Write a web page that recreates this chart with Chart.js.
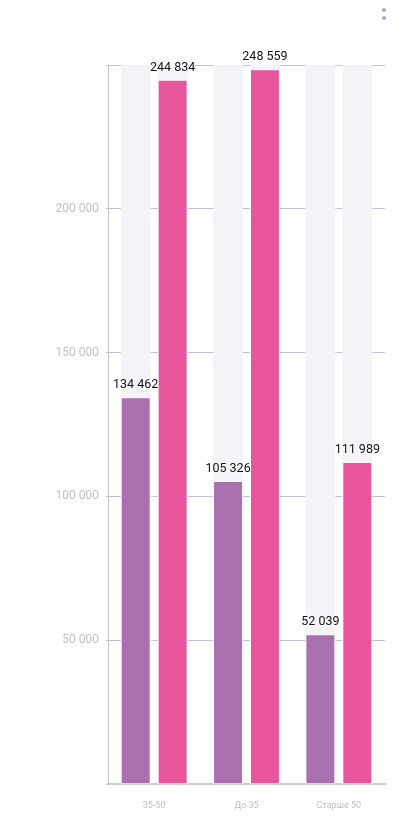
<!DOCTYPE html>
<html>
<head>
<meta charset="utf-8">
<script src="https://cdn.jsdelivr.net/npm/chart.js@4"></script>
<style>
  body { margin: 0; background: #fff; }
  .wrap { position: relative; width: 399px; height: 824px; }
  .menu { position: absolute; left: 382px; top: 8px; }
  .menu i { display: block; width: 4px; height: 4px; border-radius: 50%; background: #aaa6cf; margin-bottom: 4px; }
</style>
</head>
<body>
<div class="wrap">
  <canvas id="chart" width="399" height="824"></canvas>
  <div class="menu"><i></i><i></i></div>
</div>
<script>
const categories = ["35-50", "До 35", "Старше 50"];
const seriesA = [134462, 105326, 52039];
const seriesB = [244834, 248559, 111989];
const yMax = 250000;
const yStep = 50000;

function fmt(v) {
  return String(v).replace(/\B(?=(\d{3})+(?!\d))/g, " ");
}

// light full-height column behind every bar
const backdrop = {
  id: "backdrop",
  beforeDatasetsDraw(chart) {
    const { ctx, chartArea } = chart;
    ctx.save();
    ctx.fillStyle = "#f4f3f8";
    chart.data.datasets.forEach((ds, i) => {
      chart.getDatasetMeta(i).data.forEach((bar) => {
        ctx.fillRect(bar.x - bar.width / 2, chartArea.top, bar.width, chartArea.bottom - chartArea.top);
      });
    });
    ctx.restore();
  }
};

const valueLabels = {
  id: "valueLabels",
  afterDatasetsDraw(chart) {
    const { ctx } = chart;
    ctx.save();
    ctx.font = "12.5px Roboto";
    ctx.textAlign = "center";
    ctx.textBaseline = "middle";
    ctx.lineJoin = "round";
    chart.data.datasets.forEach((ds, i) => {
      chart.getDatasetMeta(i).data.forEach((bar, j) => {
        const text = fmt(ds.data[j]);
        const y = bar.y - 12;
        ctx.strokeStyle = "rgba(255,255,255,0.6)";
        ctx.lineWidth = 2;
        ctx.strokeText(text, bar.x, y);
        ctx.fillStyle = "#111111";
        ctx.fillText(text, bar.x, y);
      });
    });
    ctx.restore();
  }
};

new Chart(document.getElementById("chart"), {
  type: "bar",
  data: {
    labels: categories,
    datasets: [
      { data: seriesA, backgroundColor: "#a96fae", borderColor: "rgba(255,255,255,0.5)", borderWidth: 1, categoryPercentage: 0.8, barPercentage: 0.81 },
      { data: seriesB, backgroundColor: "#e8559b", borderColor: "rgba(255,255,255,0.5)", borderWidth: 1, categoryPercentage: 0.8, barPercentage: 0.81 }
    ]
  },
  options: {
    responsive: false,
    animation: false,
    layout: { padding: { top: 65, right: 14, left: 0, bottom: 0 } },
    plugins: { legend: { display: false }, tooltip: { enabled: false } },
    scales: {
      x: {
        grid: { display: false },
        border: { color: "#cbcad6", width: 2 },
        ticks: { color: "#bdbcc8", font: { size: 9, family: "Roboto" }, padding: 8 },
        afterFit(scale) { scale.height = 40; }
      },
      y: {
        min: 0,
        max: yMax,
        border: { color: "#c4c3cc", width: 1 },
        grid: { color: "#c4c2da", tickLength: 2 },
        ticks: {
          stepSize: yStep,
          color: "#c0bfcc",
          font: { size: 12, family: "Roboto" },
          padding: 7,
          callback: (v) => (v === 0 || v === yMax ? "" : fmt(v))
        },
        afterFit(scale) { scale.width = 108; }
      }
    }
  },
  plugins: [backdrop, valueLabels]
});
</script>
</body>
</html>
